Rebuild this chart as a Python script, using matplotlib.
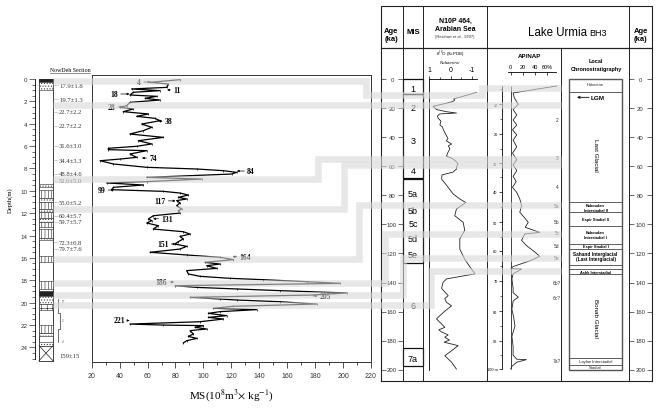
import numpy as np
import matplotlib
matplotlib.use("Agg")
import matplotlib.pyplot as plt
from matplotlib.patches import Rectangle

plt.rcParams["font.family"] = ["Liberation Sans", "DejaVu Sans"]
plt.rcParams["mathtext.fontset"] = "stix"
plt.rcParams["hatch.linewidth"] = 0.4
plt.rcParams["hatch.color"] = "#222222"

SERIF = ["Liberation Serif", "DejaVu Serif"]
W, H = 661, 410

# ---------------- NowDeh section ----------------
# magnetic susceptibility vs depth (m)
ms_depth = [0.06, 0.30, 0.45, 0.75, 0.89, 1.04, 1.19, 1.43, 1.55, 1.73,
            1.88, 2.09, 2.39, 2.53, 2.68, 2.92, 3.13, 3.34, 3.52, 3.73,
            4.03, 4.32, 4.62, 4.92, 5.22, 5.52, 5.81, 6.02, 6.20, 6.32,
            6.41, 6.71, 7.01, 7.16, 7.31, 7.60, 7.90, 8.05, 8.20, 8.35,
            8.50, 8.80, 8.95, 9.18, 9.30, 9.48, 9.69, 9.90, 10.05, 10.20,
            10.38, 10.59, 10.73, 10.88, 11.09, 11.33, 11.63, 11.78, 11.99, 12.23,
            12.52, 12.67, 12.88, 13.12, 13.42, 13.66, 13.87, 14.08, 14.31, 14.55,
            14.76, 14.97, 15.21, 15.50, 15.74, 15.95, 16.16, 16.40, 16.55, 16.70,
            16.94, 17.14, 17.44, 17.65, 17.83, 17.95, 18.13, 18.28, 18.49, 18.64,
            18.78, 18.93, 19.14, 19.32, 19.53, 19.68, 19.77, 19.92, 20.13, 20.33,
            20.51, 20.63, 20.81, 20.96, 21.17, 21.32, 21.47, 21.71, 21.92, 22.01,
            22.06, 22.21, 22.36, 22.51, 22.81, 23.02, 23.20, 23.41, 23.61]
ms_value = [83.2, 61.8, 74.9, 73.7, 48.6, 68.9, 49.8, 47.4, 66.5, 58.2,
            68.9, 47.4, 45.0, 40.3, 49.8, 42.6, 60.6, 52.2, 65.3, 68.9,
            55.8, 63.0, 57.0, 47.4, 71.3, 53.4, 63.0, 52.2, 31.9, 31.9,
            59.4, 47.4, 52.2, 40.3, 26.0, 35.5, 59.4, 95.2, 114.3, 123.8,
            120.2, 59.4, 98.7, 59.4, 30.7, 57.0, 35.5, 34.3, 71.3, 83.2,
            89.2, 82.0, 88.0, 80.8, 83.2, 80.8, 84.4, 82.0, 83.2, 64.1,
            60.6, 63.0, 59.4, 67.7, 64.1, 85.6, 90.4, 83.2, 85.6, 82.0,
            79.6, 88.0, 83.2, 61.8, 88.0, 111.9, 121.4, 101.1, 111.9, 102.3,
            109.5, 88.0, 89.2, 97.6, 119.0, 142.9, 174.0, 197.8, 79.6, 95.2,
            123.8, 154.8, 202.6, 178.7, 90.4, 111.9, 123.8, 154.8, 181.1, 121.4,
            107.1, 138.1, 111.9, 103.5, 116.6, 103.5, 114.3, 97.6, 47.4, 71.3,
            100.0, 94.0, 102.3, 90.4, 92.8, 89.2, 95.2, 88.0, 85.6]

# sample numbers next to the curve: label position and arrow tip (MS units)
sample_no = [4, 11, 18, 28, 38, 74, 84, 99, 117, 131, 151, 164, 186, 205, 221]
sample_depth = [0.27, 0.98, 1.34, 2.5, 3.76, 7.07, 8.23, 9.93, 10.9, 12.5, 14.76, 15.9, 18.16, 19.4, 21.6]
sample_label_ms = [54, 81, 36, 34, 75, 64, 134, 27, 69, 74, 71, 130, 70, 187, 40]
sample_tip_ms = [62, 74, 47, 42, 68, 56, 124, 36, 80, 64, 80, 121, 79, 179, 47]

# OSL ages along the section
osl_depth = [0.54, 1.79, 2.92, 4.17, 5.96, 7.27, 8.47, 9.09, 11.03, 12.22, 12.76, 14.61, 15.2, 24.75]
osl_age = ["17.9±1.8", "19.7±1.3", "22.7±2.2", "22.7±2.2", "31.6±3.0", "34.4±3.3", "48.8±4.6",
           "52.0±5.0", "55.0±5.2", "60.4±5.7", "59.7±5.7", "72.3±6.8", "79.7±7.6", "159±15"]

# lithology column
litho_top = [0.0, 0.3, 9.4, 9.9, 10.6, 11.0, 11.6, 11.9, 12.4, 12.8, 13.4, 14.2,
             15.8, 18.1, 19.0, 19.4, 20.1, 22.0, 22.7, 23.5, 23.85]
litho_bottom = [0.3, 0.95, 9.7, 10.6, 11.0, 11.6, 11.9, 12.4, 12.8, 13.2, 14.2, 14.4,
                16.4, 18.8, 19.4, 20.1, 20.7, 22.7, 23.0, 23.85, 25.2]
litho_kind = ["black", "dots", "dots", "lines", "dots", "lines", "dots", "lines", "dots", "lines", "lines", "dots",
              "lines", "lines", "black", "dots", "cross", "lines", "dots", "dots", "gravel"]

# ---------------- N10P 464, Arabian Sea ----------------
n10p_age = [9.2, 13.7, 14.5, 15.6, 18.8, 21.0, 22.5, 23.4, 24.0, 25.5, 27.0, 29.0, 31.6, 33.0,
            34.4, 36.5, 39.0, 41.0, 42.5, 44.7, 46.0, 48.0, 50.5, 53.0, 55.0, 56.5, 58.5, 60.0,
            62.0, 64.0, 66.0, 68.8, 73.0, 79.0, 82.5, 85.0, 89.4, 94.0, 98.6, 104.0, 110.0, 117.0,
            124.0, 130.7, 134.0, 137.5, 139.8, 144.0, 149.0, 151.0, 153.6, 156.0, 160.0, 165.0,
            168.5, 170.8, 172.5, 174.0, 176.0, 177.6, 179.5, 181.0, 183.4, 186.9, 190.3, 194.8, 199.5]
n10p_d18o = [-1.23, -0.15, -0.2, -0.1, 0.82, 0.66, 0.19, -0.28, 0.5, 0.62, 0.58, 0.45, 0.5, 0.38,
             0.35, 0.28, 0.19, 0.12, 0.2, -0.05, 0.1, 0.03, 0.12, 0.19, -0.12, -0.25, -0.36, -0.3,
             -0.28, -0.12, 0.4, 0.42, 0.19, -0.12, -0.44, -0.72, -0.28, -0.2, -0.6, -0.67, -0.44, -0.44,
             -0.67, -0.99, -1.15, 0.19, 0.35, 0.42, 0.11, 0.27, 0.19, -0.05, 0.3, 0.66,
             0.42, 0.27, 0.55, 0.42, 0.11, 0.27, 0.05, 0.3, -0.36, -0.05, 0.27, -0.05, -0.28]

# marine isotope stages
mis_box_top = [0, 10.3, 68.8, 185.2]
mis_box_bottom = [10.3, 68.3, 126.8, 197.6]
mis_name = ["1", "2", "3", "4", "5a", "5b", "5c", "5d", "5e", "6", "7a"]
mis_age = [6.4, 19.3, 42.4, 63.0, 79.0, 90.6, 99.7, 110.0, 120.4, 156.0, 191.9]

# ---------------- Lake Urmia BH3 ----------------
urmia_tie_depth = [0, 10, 20, 30, 40, 50, 60, 70, 80, 90, 100]
urmia_tie_age = [-3.4, 17.2, 37.8, 57.8, 77.5, 98.6, 118.1, 138.7, 159.8, 180.0, 199.4]
urmia_tick_depth = [10, 20, 30, 40, 50, 60, 70, 80, 90, 100]
urmia_tick_label = ["10", "20", "30", "40", "50", "60", "70", "80", "90", "100 m"]

ap_depth = [3.98, 6.31, 7.96, 10.1, 11.84, 13.69, 15.34, 16.99, 18.64, 20.35, 22.1, 24.4, 26.6,
            28.85, 30.61, 32.64, 34.67, 36.45, 38.48, 40.24, 42.37, 44.5, 46.68, 48.77, 50.0,
            51.74, 53.54, 54.1, 56.36, 58.2, 60.44, 61.89, 63.35, 65.29, 66.02, 66.12, 67.72,
            69.42, 72.51, 73.93, 75.36, 76.59, 79.34, 82.08, 85.05, 88.51, 92.06, 95.15, 96.55,
            96.7, 97.63, 99.07, 100.0]
ap_value = [76, 4, 6, 12.6, 4, 10, 4, 10, 3, 10, 4, 10, 3,
            10, 4, 10, 4, 9, 3, 10, 15, 18, 15, 24, 29,
            24, 48, 23, 18, 26, 40, 48, 32, 4, 0, 18, 4,
            2, 4, 4, 12.6, 4, 2, 5, 7, 2, 4, 4, 10,
            26, 10, 2, 0]

urmia_stage = ["2", "3", "4", "5a", "5b", "5c", "5d", "5e", "6b?", "6c?", "7a?"]
urmia_stage_depth = [15.05, 28.1, 38.2, 44.6, 49.7, 53.5, 58.3, 62.4, 70.6, 75.4, 97.0]

# local chronostratigraphy (ka)
chrono_top = [0, 8.7, 84.4, 91.7, 100.9, 113.5, 116.9, 130.9, 134.2, 192.0, 196.5]
chrono_bottom = [8.7, 84.4, 91.7, 100.9, 113.5, 116.9, 127.9, 134.2, 192.0, 196.5, 200.0]
chrono_name = ["Holocene", "Last Glacial", "Kaboudan\nInterstadial II", "Espir Stadial II",
               "Kaboudan\nInterstadial I", "Espir Stadial I", "Sahand Interglacial\n(Last Interglacial)",
               "Ashk Interstadial", "Bonab Glacial", "Laylan Interstadial", "Stadial"]
chrono_label_age = [3.4, 51.6, 88.3, 96.3, 107.0, 115.1, 121.6, 132.4, 164.0, 193.8, 198.0]
lgm_age = 12.6

# correlation bands: NowDeh depth -> marine age -> Lake Urmia depth
tie_ms_depth = [0.22, 2.33, 8.90, 11.63, 16.10, 18.25, 19.28, 20.17]
tie_age = [11.0, 17.9, 55.0, 59.1, 86.7, 106.6, 122.8, 132.0]
tie_urmia_depth = [4.7, 10.3, 28.6, 30.7, 44.4, 54.1, 62.3, 66.8]
band_step_x = [366, 300, 318, 344, 359, 385, 403, 431]

# ---------------- layout ----------------
DEPTH_Y0, DEPTH_PX = 80.0, 11.18
AGE_Y0, AGE_PX = 80.0, 1.454

fig = plt.figure(figsize=(W / 100, H / 100), dpi=100)
fig.patch.set_facecolor("white")


def px_axes(left, top, right, bottom):
    ax = fig.add_axes([left / W, 1 - bottom / H, (right - left) / W, (bottom - top) / H])
    ax.patch.set_visible(False)
    return ax


def depth_at(y):
    return (y - DEPTH_Y0) / DEPTH_PX


def age_at(y):
    return (y - AGE_Y0) / AGE_PX


def urmia_to_age(d):
    return np.interp(d, urmia_tie_depth, urmia_tie_age)


# ---- lithology log + depth axis
ax_log = px_axes(35, 60, 91, 372)
ax_log.set_xlim(35, 91)
ax_log.set_ylim(depth_at(372), depth_at(60))
for s in ["top", "right", "bottom"]:
    ax_log.spines[s].set_visible(False)
ax_log.spines["left"].set_bounds(0, 25)
ax_log.spines["left"].set_linewidth(0.6)
ax_log.set_xticks([])
ax_log.set_yticks(np.arange(0, 25, 2))
ax_log.set_yticks(np.arange(0, 25.01, 0.5), minor=True)
ax_log.tick_params(axis="y", which="major", length=4, width=0.5, labelsize=4.5, pad=1.5,
                   colors="#333333")
ax_log.tick_params(axis="y", which="minor", length=2, width=0.4)
ax_log.set_ylabel("Depth(m)", family=SERIF, fontsize=4.8)
ax_log.yaxis.set_label_coords((10 - 35) / 56, 0.55)
ax_log.yaxis.label.set_va("center")

col_x0, col_x1 = 39, 53
ax_log.add_patch(Rectangle((col_x0, 0), col_x1 - col_x0, litho_bottom[-1],
                           fc="white", ec="#222222", lw=0.6))
hatch_for = {"dots": "......", "lines": "|||||", "cross": "+++"}
for top, bot, kind in zip(litho_top, litho_bottom, litho_kind):
    if kind == "black":
        ax_log.add_patch(Rectangle((col_x0, top), col_x1 - col_x0, bot - top,
                                   fc="#222222", ec="#222222", lw=0.4))
    elif kind == "gravel":
        ax_log.add_patch(Rectangle((col_x0, top), col_x1 - col_x0, bot - top,
                                   fc="white", ec="#222222", lw=0.5))
        ax_log.plot([col_x0, col_x1], [top, bot], color="#222222", lw=0.5)
        ax_log.plot([col_x1, col_x0], [top, bot], color="#222222", lw=0.5)
    else:
        ax_log.add_patch(Rectangle((col_x0, top), col_x1 - col_x0, bot - top,
                                   fc="white", ec="#222222", lw=0.4, hatch=hatch_for[kind]))

for d, lab in zip(osl_depth, osl_age):
    if lab != "159±15":
        ax_log.plot([col_x1, col_x1 + 5], [d, d], color="#777777", lw=0.4, ls=(0, (1.5, 1)))
    ax_log.text(col_x1 + 6, d, lab, family=SERIF, fontsize=4.8, color="#333333",
                ha="left", va="center")

# small sub-unit bracket near the base
ax_log.plot([58, 58, 60, 60, 58, 58], [19.7, 20.9, 20.9, 22.4, 22.4, 23.5],
            color="#333333", lw=0.5)
for d, t in zip([19.9, 21.6, 23.4], ["1?", "2", "4"]):
    ax_log.text(61.5, d, t, fontsize=2.2, color="#555555", va="center")

ax_log.text(70, depth_at(70.5), "NowDeh Section", family=SERIF, fontsize=4.2,
            ha="center", va="center", clip_on=False)
ax_log.plot([50, 90], [depth_at(73.5)] * 2, color="#333333", lw=0.4, clip_on=False)

# ---- magnetic susceptibility
ax_ms = px_axes(91.7, 76, 371, 363)
ax_ms.set_xlim(20, 220)
ax_ms.set_ylim(depth_at(363), depth_at(76))
ax_ms.plot(ms_value, ms_depth, color="black", lw=0.9, marker="|", ms=2, mew=0.5)
ax_ms.set_yticks([])
ax_ms.set_xticks(np.arange(20, 221, 20))
ax_ms.set_xticks(np.arange(20, 221, 10), minor=True)
ax_ms.tick_params(axis="x", which="major", direction="out", length=4, width=0.6,
                  labelsize=5, pad=3.5, colors="#333333")
ax_ms.tick_params(axis="x", which="minor", direction="out", length=2.5, width=0.5)
for s in ax_ms.spines.values():
    s.set_linewidth(0.7)
    s.set_color("#333333")
ax_ms.set_xlabel(r"MS(10$^{8}$m$^{3}$$\times$ kg$^{-1}$)", family=SERIF, fontsize=8)
ax_ms.xaxis.set_label_coords(0.5, -(395 - 363) / 287)
ax_ms.xaxis.label.set_va("center")

for n, d, lx, tx in zip(sample_no, sample_depth, sample_label_ms, sample_tip_ms):
    ax_ms.annotate(str(n), xy=(tx, d), xytext=(lx, d), family=SERIF, fontsize=5.5,
                   fontweight="bold", ha="center", va="center",
                   arrowprops=dict(arrowstyle="-|>", lw=0.5, color="black",
                                   mutation_scale=3, shrinkA=0, shrinkB=0))

# ---- right panel frame (age axis, MIS, chronostratigraphy)
ax_r = px_axes(381, 49.3, 652, 382)
ax_r.set_xlim(381, 652)
ax_r.set_ylim(age_at(382), age_at(49.3))
ax_r.set_xticks([])
ax_r.set_yticks([])
for s in ax_r.spines.values():
    s.set_linewidth(0.8)
    s.set_color("#222222")
for x in [403, 423, 487, 561, 629]:
    ax_r.axvline(x, color="#222222", lw=0.7)

age_ticks = np.arange(0, 201, 20)
for x0, x1 in [(381, 386), (398, 403), (629, 634), (647, 652)]:
    ax_r.hlines(age_ticks, x0, x1, color="#333333", lw=0.5)
for a in age_ticks:
    ax_r.text(392, a, str(a), fontsize=4.3, ha="center", va="center", color="#333333")
    ax_r.text(640.5, a, str(a), fontsize=4.3, ha="center", va="center", color="#333333")

for t, b in zip(mis_box_top, mis_box_bottom):
    ax_r.add_patch(Rectangle((403, t), 20, b - t, fill=False, ec="#111111", lw=0.9))
for name, a in zip(mis_name, mis_age):
    ax_r.text(413, a, name, fontsize=6.5, ha="center", va="center")

for name, d in zip(urmia_stage, urmia_stage_depth):
    ax_r.text(557, urmia_to_age(d), name, fontsize=3.5, ha="center", va="center", color="#333333")

ax_r.add_patch(Rectangle((569, chrono_top[0]), 53, chrono_bottom[-1] - chrono_top[0],
                         fill=False, ec="#555555", lw=1.0))
ax_r.hlines(sorted(set(chrono_top[1:] + chrono_bottom[:-1])), 569, 622, color="#444444", lw=0.6)
for name, a in zip(chrono_name, chrono_label_age):
    if "Glacial" in name and "Inter" not in name:
        ax_r.text(595.5, a, name, fontsize=4.5, rotation=-90, ha="center", va="center")
    elif name in ("Holocene", "Laylan Interstadial", "Stadial"):
        ax_r.text(595.5, a, name, fontsize=3.0, ha="center", va="center", color="#222222")
    elif name.startswith("Sahand"):
        ax_r.text(595.5, a, name, fontsize=3.4, fontweight="bold", ha="center", va="center",
                  linespacing=1.1)
    else:
        ax_r.text(595.5, a, name, fontsize=2.8, fontweight="bold", ha="center", va="center",
                  linespacing=1.1)
ax_r.annotate("", xy=(577, lgm_age), xytext=(589, lgm_age),
              arrowprops=dict(arrowstyle="->", lw=0.6, color="black", mutation_scale=4,
                              shrinkA=0, shrinkB=0))
ax_r.text(591, lgm_age, "LGM", fontsize=4.6, fontweight="bold", ha="left", va="center")

# ---- N10P 464 d18O
ax_n = px_axes(429.3, 80, 487, 382)
ax_n.set_xlim(1, 1 - (487 - 429.3) / 21.2)
ax_n.set_ylim(age_at(382), 0)
ax_n.plot(n10p_d18o, n10p_age, color="#222222", lw=0.6)
for s in ["right", "bottom"]:
    ax_n.spines[s].set_visible(False)
ax_n.spines["left"].set_bounds(0, 200)
ax_n.spines["top"].set_bounds(1, -1.25)
for s in ["left", "top"]:
    ax_n.spines[s].set_linewidth(0.6)
ax_n.set_yticks([])
ax_n.xaxis.tick_top()
ax_n.set_xticks([1, 0, -1])
ax_n.set_xticklabels(["1", "0", "-1"])
ax_n.set_xticks([0.5, -0.5], minor=True)
ax_n.tick_params(axis="x", which="both", direction="out", length=2, width=0.5,
                 labelsize=5, pad=2.5)
ax_n.tick_params(axis="x", which="minor", length=1.5)

# ---- Lake Urmia AP/NAP vs depth
ax_ap = px_axes(502, 73, 561, 382)
ax_ap.set_xlim(-(510.7 - 502) / 0.605, (561 - 510.7) / 0.605)
ax_ap.set_ylim(age_at(382), age_at(73))
ax_ap.vlines(0, urmia_to_age(4), urmia_to_age(100), color="#222222", lw=0.6)
ax_ap.plot(ap_value, urmia_to_age(ap_depth), color="#222222", lw=0.6)
for s in ["right", "bottom"]:
    ax_ap.spines[s].set_visible(False)
ax_ap.spines["top"].set_bounds(-4, 75)
ax_ap.spines["left"].set_bounds(urmia_to_age(4), urmia_to_age(100))
for s in ["left", "top"]:
    ax_ap.spines[s].set_linewidth(0.6)
ax_ap.xaxis.tick_top()
ax_ap.set_xticks([0, 20, 40, 60])
ax_ap.set_xticklabels(["0", "20", "40", "60%"])
ax_ap.tick_params(axis="x", direction="in", length=2.5, width=0.5, labelsize=4, pad=2)
ax_ap.set_yticks(urmia_to_age(urmia_tick_depth))
ax_ap.set_yticklabels(urmia_tick_label)
ax_ap.set_yticks(urmia_to_age(np.arange(5, 100, 10)), minor=True)
ax_ap.tick_params(axis="y", which="major", direction="out", length=2.2, width=0.5,
                  labelsize=2.8, pad=1)
ax_ap.tick_params(axis="y", which="minor", direction="out", length=1.3, width=0.4)

# ---- overlay: header and correlation bands (pixel space)
ax_px = px_axes(0, 0, W, H)
ax_px.set_xlim(0, W)
ax_px.set_ylim(H, 0)
ax_px.axis("off")
ax_px.set_zorder(10)

ax_px.add_patch(Rectangle((381, 6.7), 271, 42.6, fill=False, ec="#222222", lw=0.8))
ax_px.vlines([403, 423, 487, 629], 6.7, 49.3, color="#222222", lw=0.7)
for x in (391.5, 640.5):
    ax_px.text(x, 31.5, "Age", fontsize=5.5, fontweight="bold", ha="center", va="center")
    ax_px.text(x, 39.5, "(ka)", fontsize=5.5, fontweight="bold", ha="center", va="center")
ax_px.text(413, 33, "MIS", fontsize=5.5, fontweight="bold", ha="center", va="center")
ax_px.text(455, 21.7, "N10P 464,", fontsize=5, fontweight="bold", ha="center", va="center")
ax_px.text(455, 29.3, "Arabian Sea", fontsize=5, fontweight="bold", ha="center", va="center")
ax_px.text(455, 36.7, "(Reichart et al., 1997)", fontsize=3, ha="center", va="center",
           color="#333333")
ax_px.text(587, 33, "Lake Urmia", fontsize=8.3, ha="right", va="center")
ax_px.text(589, 33.6, "BH3", fontsize=6.5, ha="left", va="center")
ax_px.text(450, 55, r"δ$^{18}$O (‰PDB)", fontsize=3.2, ha="center", va="center")
ax_px.text(450, 62.7, "N.dutertrei", fontsize=3.2, style="italic", ha="center", va="center")
ax_px.text(530, 57, "AP/NAP", fontsize=4.5, fontweight="bold", ha="center", va="center")
ax_px.text(596, 61.7, "Local", fontsize=4, fontweight="bold", ha="center", va="center")
ax_px.text(596, 69.3, "Chronostratigraphy", fontsize=4, fontweight="bold", ha="center",
           va="center")


def img_y(ax, x, y):
    return H - ax.transData.transform((x, y))[1]


for d, a, ud, sx in zip(tie_ms_depth, tie_age, tie_urmia_depth, band_step_x):
    y_ms = img_y(ax_ms, 100, d)
    y_age = img_y(ax_r, 400, a)
    y_u = img_y(ax_ap, 0, urmia_to_age(ud))
    ax_px.plot([53, sx, sx, 482, 482, 561], [y_ms, y_ms, y_age, y_age, y_u, y_u],
               color="#d8d8d8", alpha=0.6, lw=4.7, solid_joinstyle="miter",
               solid_capstyle="butt")

fig.savefig("out.png", dpi=100)
